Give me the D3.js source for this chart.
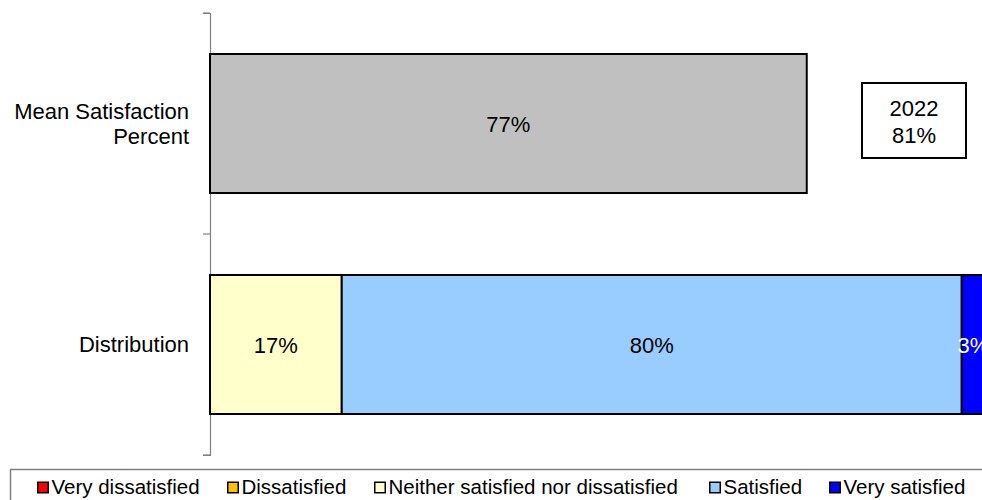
<!DOCTYPE html>
<html>
<head>
<meta charset="utf-8">
<script src="https://cdn.jsdelivr.net/npm/d3@7"></script>
<style>
  html, body { margin: 0; padding: 0; background: #fff; }
  svg { display: block; }
  text { font-family: "Liberation Sans", Arial, sans-serif; fill: #000; }
</style>
</head>
<body>
<svg id="chart" width="982" height="500"></svg>
<script>
// Rows of the chart
const categories = ["Mean Satisfaction Percent", "Distribution"];
const categoryLines = [["Mean Satisfaction", "Percent"], ["Distribution"]];

// Mean satisfaction (percent)
const meanValue = [77];

// Response distribution (percent), stacked left to right
const levels = ["Very dissatisfied", "Dissatisfied", "Neither satisfied nor dissatisfied", "Satisfied", "Very satisfied"];
const distribution = [0, 0, 17, 80, 3];
const levelColors = ["#FF0000", "#FFC000", "#FFFFCC", "#99CCFF", "#0000FF"];
const labelColors = ["#000", "#000", "#000", "#000", "#fff"];

// Previous-year reference
const refYear = ["2022"];
const refValue = [81];

const svg = d3.select("#chart");
const FS = 22;

const x = d3.scaleLinear().domain([0, 100]).range([210, 985]);
const y = d3.scaleBand().domain(categories).range([13, 455])
  .paddingInner(0.371).paddingOuter(0.1855);

// Category axis
const axis = svg.append("g").attr("transform", "translate(210,0)")
  .call(d3.axisLeft(y).tickValues([]).tickSizeOuter(7));
axis.select(".domain").attr("stroke", "#808080").attr("stroke-width", 1.2);
// tick marks between the categories
const bounds = [13, (y(categories[0]) + y.bandwidth() + y(categories[1])) / 2, 455];
axis.selectAll("line.sep").data(bounds).enter().append("line")
  .attr("class", "sep")
  .attr("x1", -7).attr("x2", 0)
  .attr("y1", d => d).attr("y2", d => d)
  .attr("stroke", "#808080").attr("stroke-width", 1.2);

// Category labels
categories.forEach((c, i) => {
  const lines = categoryLines[i];
  const cy = y(c) + y.bandwidth() / 2;
  const lh = 25;
  const t = svg.append("text")
    .attr("text-anchor", "end")
    .attr("font-size", FS);
  lines.forEach((ln, j) => {
    t.append("tspan")
      .attr("x", 189)
      .attr("y", cy + 7.5 + (j - (lines.length - 1) / 2) * lh)
      .text(ln);
  });
});

// Mean bar
const meanRow = categories[0];
svg.append("rect")
  .attr("x", x(0)).attr("y", y(meanRow))
  .attr("width", x(meanValue[0]) - x(0)).attr("height", y.bandwidth())
  .attr("fill", "#C0C0C0").attr("stroke", "#000").attr("stroke-width", 2);
svg.append("text")
  .attr("x", (x(0) + x(meanValue[0])) / 2)
  .attr("y", y(meanRow) + y.bandwidth() / 2 + 8)
  .attr("text-anchor", "middle").attr("font-size", FS)
  .text(meanValue[0] + "%");

// Stacked distribution bar
const distRow = categories[1];
let acc = 0;
const segs = distribution.map((v, i) => {
  const s = { v, i, x0: acc, x1: acc + v };
  acc += v;
  return s;
}).filter(s => s.v > 0);

svg.selectAll("rect.seg").data(segs).enter().append("rect")
  .attr("class", "seg")
  .attr("x", d => x(d.x0)).attr("y", y(distRow))
  .attr("width", d => x(d.x1) - x(d.x0)).attr("height", y.bandwidth())
  .attr("fill", d => levelColors[d.i])
  .attr("stroke", "#000").attr("stroke-width", 2);

svg.selectAll("text.seg").data(segs).enter().append("text")
  .attr("class", "seg")
  .attr("x", d => (x(d.x0) + x(d.x1)) / 2)
  .attr("y", y(distRow) + y.bandwidth() / 2 + 8)
  .attr("text-anchor", "middle").attr("font-size", FS)
  .style("fill", d => labelColors[d.i])
  .text(d => d.v + "%");

// Reference box
const bx = 862, by = 83, bw = 104, bh = 75;
svg.append("rect").attr("x", bx).attr("y", by).attr("width", bw).attr("height", bh)
  .attr("fill", "#fff").attr("stroke", "#000").attr("stroke-width", 2);
const rt = svg.append("text").attr("text-anchor", "middle").attr("font-size", FS);
rt.append("tspan").attr("x", bx + bw / 2).attr("y", by + 33).text(refYear[0]);
rt.append("tspan").attr("x", bx + bw / 2).attr("y", by + 60).text(refValue[0] + "%");

// Legend
svg.append("rect").attr("x", 10.5).attr("y", 469.5).attr("width", 990).attr("height", 60)
  .attr("fill", "#fff").attr("stroke", "#808080").attr("stroke-width", 1.5);
const legendX = [37, 227, 374, 709, 829];
const lg = svg.selectAll("g.leg").data(levels).enter().append("g")
  .attr("class", "leg")
  .attr("transform", (d, i) => `translate(${legendX[i]},0)`);
lg.append("rect").attr("x", 0.75).attr("y", 482.25).attr("width", 10.5).attr("height", 10.5)
  .attr("fill", (d, i) => levelColors[i]).attr("stroke", "#000").attr("stroke-width", 1.5);
lg.append("text").attr("x", 14.5).attr("y", 494).attr("font-size", 20.5).text(d => d);
</script>
</body>
</html>
